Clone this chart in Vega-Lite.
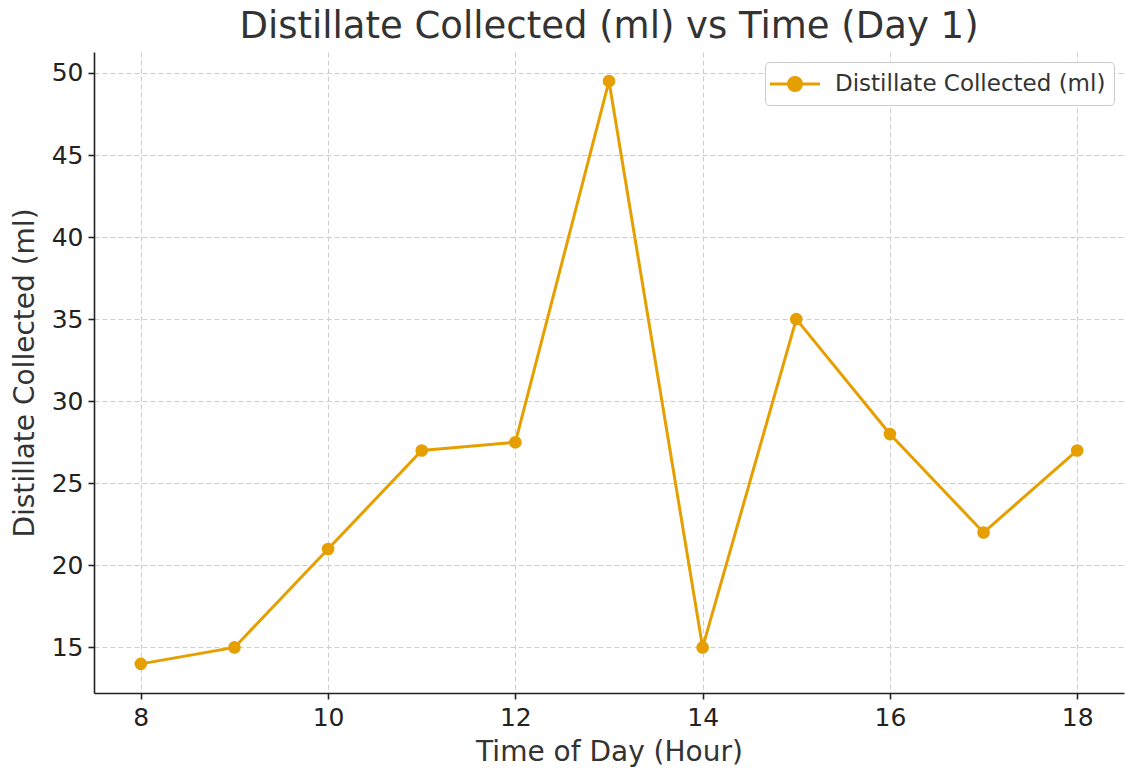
{
  "$schema": "https://vega.github.io/schema/vega-lite/v6.json",
  "width": 1030,
  "height": 641,
  "autosize": {"type": "none"},
  "padding": {"left": 94, "top": 52, "right": 1, "bottom": 76},
  "background": "white",
  "title": {
    "text": "Distillate Collected (ml) vs Time (Day 1)",
    "font": "DejaVu Sans",
    "fontSize": 37,
    "fontWeight": "normal",
    "color": "#333333",
    "anchor": "middle",
    "offset": 6
  },
  "config": {
    "view": {"stroke": null},
    "font": "DejaVu Sans",
    "axis": {
      "domainColor": "#222222",
      "domainWidth": 1.6,
      "tickColor": "#222222",
      "tickWidth": 1.6,
      "tickSize": 6,
      "labelFont": "DejaVu Sans",
      "labelFontSize": 25,
      "labelColor": "#222222",
      "titleFont": "DejaVu Sans",
      "titleFontSize": 28,
      "titleFontWeight": "normal",
      "titleColor": "#333333",
      "gridColor": "#cccccc",
      "gridDash": [5, 3],
      "gridWidth": 1
    }
  },
  "data": {
    "values": [
      {"hour": 8, "ml": 14},
      {"hour": 9, "ml": 15},
      {"hour": 10, "ml": 21},
      {"hour": 11, "ml": 27},
      {"hour": 12, "ml": 27.5},
      {"hour": 13, "ml": 49.5},
      {"hour": 14, "ml": 15},
      {"hour": 15, "ml": 35},
      {"hour": 16, "ml": 28},
      {"hour": 17, "ml": 22},
      {"hour": 18, "ml": 27}
    ]
  },
  "mark": {
    "type": "line",
    "strokeWidth": 3,
    "point": {"filled": true, "size": 160, "opacity": 1}
  },
  "encoding": {
    "x": {
      "field": "hour",
      "type": "quantitative",
      "scale": {"domain": [7.5, 18.5], "nice": false, "zero": false},
      "axis": {
        "title": "Time of Day (Hour)",
        "values": [8, 10, 12, 14, 16, 18],
        "labelPadding": 6,
        "titlePadding": 8,
        "encode": {"ticks": {"update": {"y2": {"value": -6}}}}
      }
    },
    "y": {
      "field": "ml",
      "type": "quantitative",
      "scale": {"domain": [12.225, 51.275], "nice": false, "zero": false},
      "axis": {
        "title": "Distillate Collected (ml)",
        "values": [15, 20, 25, 30, 35, 40, 45, 50],
        "labelPadding": 5,
        "titlePadding": 12,
        "encode": {"ticks": {"update": {"x2": {"value": 6}}}}
      }
    },
    "color": {
      "datum": "Distillate Collected (ml)",
      "type": "nominal",
      "scale": {"range": ["#E69F00"]},
      "legend": {
        "title": null,
        "orient": "top-right",
        "offset": 10,
        "padding": 8,
        "strokeColor": "#cccccc",
        "fillColor": "white",
        "cornerRadius": 4,
        "labelFont": "DejaVu Sans",
        "labelFontSize": 23,
        "labelColor": "#333333",
        "labelLimit": 0,
        "symbolType": "M-2,0H2M0.52,0A0.52,0.52,0,1,1,-0.52,0A0.52,0.52,0,1,1,0.52,0",
        "symbolSize": 625,
        "symbolOffset": 8,
        "symbolStrokeWidth": 3,
        "symbolFillColor": "#E69F00",
        "symbolStrokeColor": "#E69F00",
        "labelOffset": 26
      }
    }
  }
}
